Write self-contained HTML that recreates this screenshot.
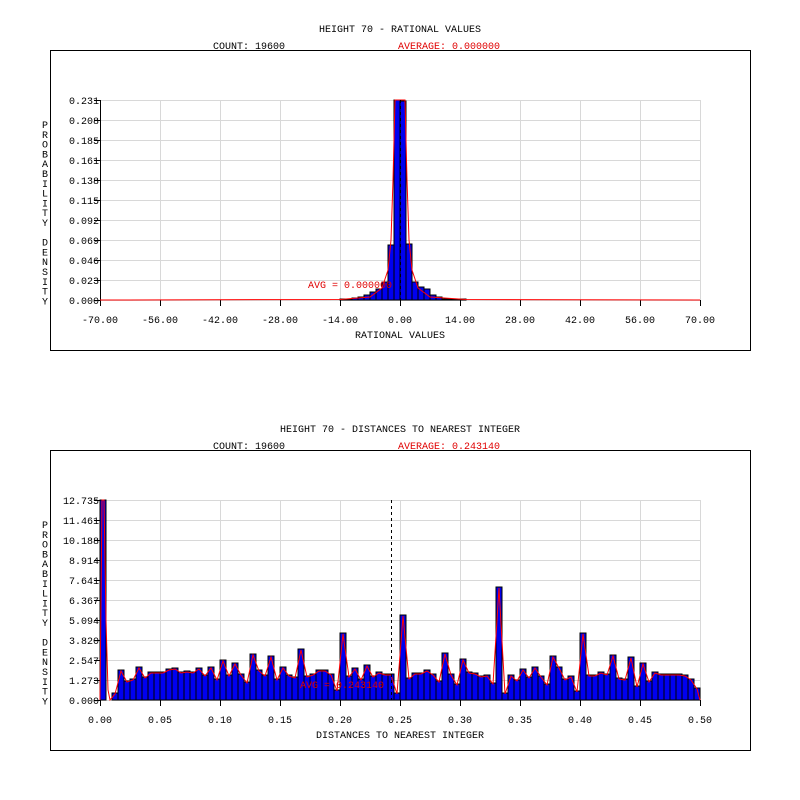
<!DOCTYPE html>
<html><head><meta charset="utf-8"><style>
html,body{margin:0;padding:0;background:#fff}
svg{display:block}
text{font-family:"Liberation Mono","DejaVu Sans Mono",monospace;font-size:10px}
</style></head><body>
<svg id="s" width="800" height="800" xmlns="http://www.w3.org/2000/svg"></svg>
<script>
const s=document.getElementById('s');let h='';
function T(x,y,t,c,a){h+=`<text x="${x}" y="${y}" fill="${c||'#000'}" text-anchor="${a||'start'}">${t}</text>`;}
function L(x1,y1,x2,y2,c,w,d){h+=`<line x1="${x1}" y1="${y1}" x2="${x2}" y2="${y2}" stroke="${c}" stroke-width="${w||1}" ${d?'stroke-dasharray="'+d+'"':''}/>`;}
function panel(oy,title,avg,ylabels,xlabels,xname){
 h+=`<rect x="50.5" y="${oy+50.5}" width="700" height="300" fill="none" stroke="#000"/>`;
 T(400,oy+32,title,'#000','middle');T(213,oy+49,'COUNT: 19600');T(398,oy+49,'AVERAGE: '+avg,'#e00000');
 for(let i=0;i<=10;i++)L(100,oy+100+i*20+.5,700,oy+100+i*20+.5,'#d8d8d8');
 for(let i=0;i<=10;i++)L(100+i*60+.5,oy+100,100+i*60+.5,oy+300,'#d8d8d8');
 L(100.5,oy+100,100.5,oy+300,'#000');
 for(let i=0;i<=10;i++){L(94,oy+100+i*20+.5,100,oy+100+i*20+.5,'#000');T(99,oy+104+i*20,ylabels[i],'#000','end');}
 for(let i=0;i<=10;i++){L(100+i*60+.5,oy+300,100+i*60+.5,oy+306,'#000');T(100+i*60,oy+323,xlabels[i],'#000','middle');}
 T(400,oy+338,xname,'#000','middle');
 const lab='PROBABILITY DENSITY';for(let i=0;i<lab.length;i++)T(42,oy+128+i*9.8,lab[i]);
}
let yl1=['0.231','0.208','0.185','0.161','0.138','0.115','0.092','0.069','0.046','0.023','0.000'];
let xl1=['-70.00','-56.00','-42.00','-28.00','-14.00','0.00','14.00','28.00','42.00','56.00','70.00'];
panel(0,'HEIGHT 70 - RATIONAL VALUES','0.000000',yl1,xl1,'RATIONAL VALUES');
let tb={40:299,41:299,42:298,43:297,44:295,45:292,46:289,47:282,48:245,49:100,50:101,51:244,52:282,53:287,54:289,55:295,56:297,57:299,58:299,59:299,60:299};
for(const k in tb){h+=`<rect x="${100+6*k}" y="${tb[k]}" width="6" height="${300-tb[k]}" fill="#0000f0" stroke="#000" stroke-width="1"/>`;}
h+=`<polyline fill="none" stroke="#f00" points="100,300 340,299.5 370,297 382,288 388,270 391,240 393,180 395,100 405,100 407,180 409,240 412,270 418,288 430,297 466,299.5 700,300"/>`;
L(400.5,100,400.5,300,'#000',1,'3,3');
T(308,288,'AVG = 0.000000','#e00000');
let yl2=['12.735','11.461','10.188','8.914','7.641','6.367','5.094','3.820','2.547','1.273','0.000'];
let xl2=['0.00','0.05','0.10','0.15','0.20','0.25','0.30','0.35','0.40','0.45','0.50'];
panel(400,'HEIGHT 70 - DISTANCES TO NEAREST INTEGER','0.243140',yl2,xl2,'DISTANCES TO NEAREST INTEGER');
let b=[500,700,693,670,681,679,667,677,672,672,672,669,668,672,671,672,668,675,667,679,660,675,663,674,682,654,670,675,656,679,667,675,
677,649,676,674,670,670,674,690,633,676,668,679,665,676,672,674,674,693,615,678,673,673,670,674,681,653,674,684,659,672,673,676,675,683,587,693,675,680,669,677,667,676,684,656,667,679,676,691,633,675,675,672,674,655,678,679,657,686,663,681,672,674,674,674,674,675,679,688];
let pts=[];
for(let k=0;k<100;k++){h+=`<rect x="${100+6*k}" y="${b[k]}" width="6" height="${700-b[k]}" fill="#0000f0" stroke="#000" stroke-width="1"/>`;}
pts.push('100,700','102,500','104,500','106,620','108,690','110,700');
for(let k=2;k<100;k++)pts.push(`${103+6*k},${b[k]+1}`);
pts.push('700,700');
h+=`<polyline fill="none" stroke="#f00" points="${pts.join(' ')}"/>`;
L(391.5,500,391.5,700,'#000',1,'3,3');
T(300,688,'AVG = 0.243140','#e00000');
s.innerHTML=h;
</script>
</body></html>
